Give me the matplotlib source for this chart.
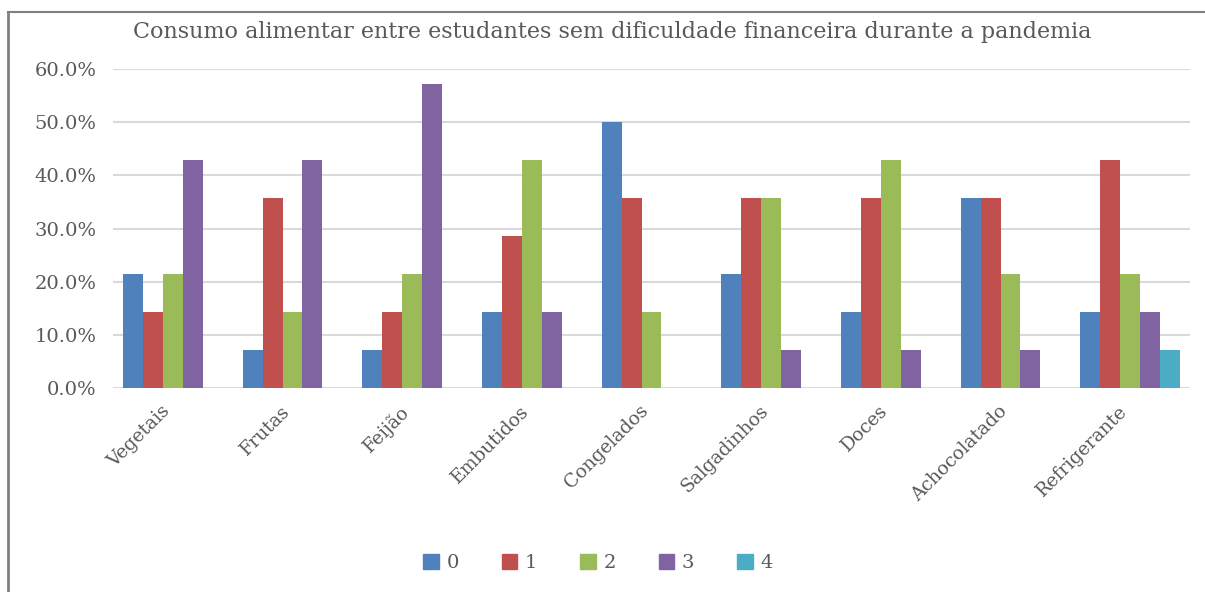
import matplotlib
matplotlib.use("Agg")
import matplotlib.pyplot as plt
import matplotlib.transforms as mtransforms
import numpy as np
from matplotlib.lines import Line2D
from matplotlib.ticker import FuncFormatter

categories = ["Vegetais", "Frutas", "Feijão", "Embutidos", "Congelados",
              "Salgadinhos", "Doces", "Achocolatado", "Refrigerante"]
series_names = ["0", "1", "2", "3", "4"]
s0 = [21.4, 7.1, 7.1, 14.3, 50.0, 21.4, 14.3, 35.7, 14.3]
s1 = [14.3, 35.7, 14.3, 28.6, 35.7, 35.7, 35.7, 35.7, 42.9]
s2 = [21.4, 14.3, 21.4, 42.9, 14.3, 35.7, 42.9, 21.4, 21.4]
s3 = [42.9, 42.9, 57.1, 14.3, 0.0, 7.1, 7.1, 7.1, 14.3]
s4 = [0.0, 0.0, 0.0, 0.0, 0.0, 0.0, 0.0, 0.0, 7.1]
colors = ["#4F81BD", "#C0504D", "#9BBB59", "#8064A2", "#4BACC6"]
yticks = [0, 10, 20, 30, 40, 50, 60]
title = "Consumo alimentar entre estudantes sem dificuldade financeira durante a pandemia"

serif = ["DejaVu Serif"]
W, H = 1205, 592
fig = plt.figure(figsize=(W / 100, H / 100), dpi=100)
ax = fig.add_axes([113 / W, 1 - 388 / H, (1190 - 113) / W, (388 - 69) / H])

x = np.arange(len(categories))
bw = 0.167
allseries = [s0, s1, s2, s3, s4]
for i, (vals, c) in enumerate(zip(allseries, colors)):
    ax.bar(x + (i - 2) * bw, vals, width=bw, color=c, zorder=3, label=series_names[i])

ax.set_xlim(-0.5, len(categories) - 0.5)
ax.set_ylim(0, 60)
ax.set_yticks(yticks)
ax.yaxis.set_major_formatter(FuncFormatter(lambda v, p: f"{v:.1f}%"))
ax.grid(axis="y", color="#D9D9D9", linewidth=1.5, zorder=0)
for s in ax.spines.values():
    s.set_visible(False)
ax.tick_params(axis="both", length=0)
ax.tick_params(axis="y", pad=12)
for lab in ax.get_yticklabels():
    lab.set_family(serif)
    lab.set_fontsize(14)
    lab.set_color("#595959")
ax.set_xticks(x)
ax.set_xticklabels(categories, rotation=45, ha="right", rotation_mode="anchor",
                   family=serif, fontsize=13.5, color="#595959")
ax.tick_params(axis="x", pad=10)
shift = mtransforms.ScaledTranslation(-12 / 100, 0, fig.dpi_scale_trans)
for lab in ax.get_xticklabels():
    lab.set_transform(lab.get_transform() + shift)

fig.text(612 / W, 1 - 32 / H, title, ha="center", va="center", family=serif,
         fontsize=16, color="#595959")

handles = [plt.Rectangle((0, 0), 1, 1, color=c) for c in colors]
fig.legend(handles, series_names, loc="center", bbox_to_anchor=(598 / W, 1 - 563 / H),
           ncol=5, frameon=False, prop={"family": serif, "size": 14},
           handlelength=0.8, handleheight=0.8, columnspacing=2.2, handletextpad=0.4,
           labelcolor="#595959")

# chart border (left and top visible)
fig.add_artist(Line2D([8 / W, 8 / W], [0, 1 - 12 / H], color="#808080", linewidth=2,
                      transform=fig.transFigure))
fig.add_artist(Line2D([8 / W, 1], [1 - 12 / H, 1 - 12 / H], color="#808080", linewidth=1.5,
                      transform=fig.transFigure))

fig.savefig("out.png", dpi=100, facecolor="white")
